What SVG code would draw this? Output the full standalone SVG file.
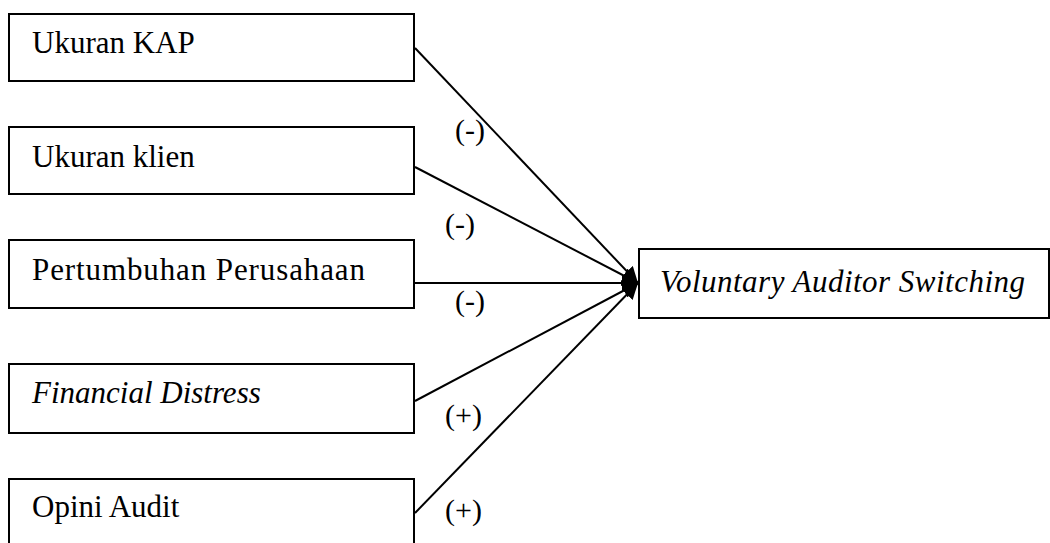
<svg xmlns="http://www.w3.org/2000/svg" width="1050" height="543" viewBox="0 0 1050 543">
<style>
.box{fill:#fff;stroke:#000;stroke-width:2}
.t{font-family:"Liberation Serif","Times New Roman",serif;font-size:31px;fill:#000}
.i{font-style:italic}
.l{font-size:30px}
.c{stroke:#000;stroke-width:2;fill:none;marker-end:url(#ah)}
</style>
<defs>
<marker id="ah" viewBox="0 0 10 10" refX="10" refY="5" markerWidth="16" markerHeight="16" markerUnits="userSpaceOnUse" orient="auto">
<path d="M0,0 L10,5 L0,10 Z" fill="#000"/>
</marker>
</defs>
<g id="connectors">
<line class="c" x1="415" y1="48" x2="638" y2="283"/>
<line class="c" x1="415" y1="167" x2="638" y2="283"/>
<line class="c" x1="415" y1="283" x2="638" y2="283"/>
<line class="c" x1="415" y1="401" x2="638" y2="283"/>
<line class="c" x1="415" y1="513" x2="638" y2="283"/>
<text class="t l" x="455" y="140">(-)</text>
<text class="t l" x="445" y="234">(-)</text>
<text class="t l" x="455" y="311">(-)</text>
<text class="t l" x="445" y="425">(+)</text>
<text class="t l" x="445" y="520">(+)</text>
</g>
<g id="n1"><rect class="box" x="9" y="14" width="405" height="67"/><text class="t" x="32" y="53">Ukuran KAP</text></g>
<g id="n2"><rect class="box" x="9" y="127" width="405" height="67"/><text class="t" x="32" y="167">Ukuran klien</text></g>
<g id="n3"><rect class="box" x="9" y="240" width="405" height="68"/><text class="t" x="32" y="280" textLength="333" lengthAdjust="spacing">Pertumbuhan Perusahaan</text></g>
<g id="n4"><rect class="box" x="9" y="364" width="405" height="69"/><text class="t i" x="32" y="403">Financial Distress</text></g>
<g id="n5"><rect class="box" x="9" y="479" width="405" height="70"/><text class="t" x="32" y="517">Opini Audit</text></g>
<g id="n6"><rect class="box" x="639" y="249" width="410" height="69"/><text class="t i" x="660" y="292" textLength="365" lengthAdjust="spacing">Voluntary Auditor Switching</text></g>
</svg>
